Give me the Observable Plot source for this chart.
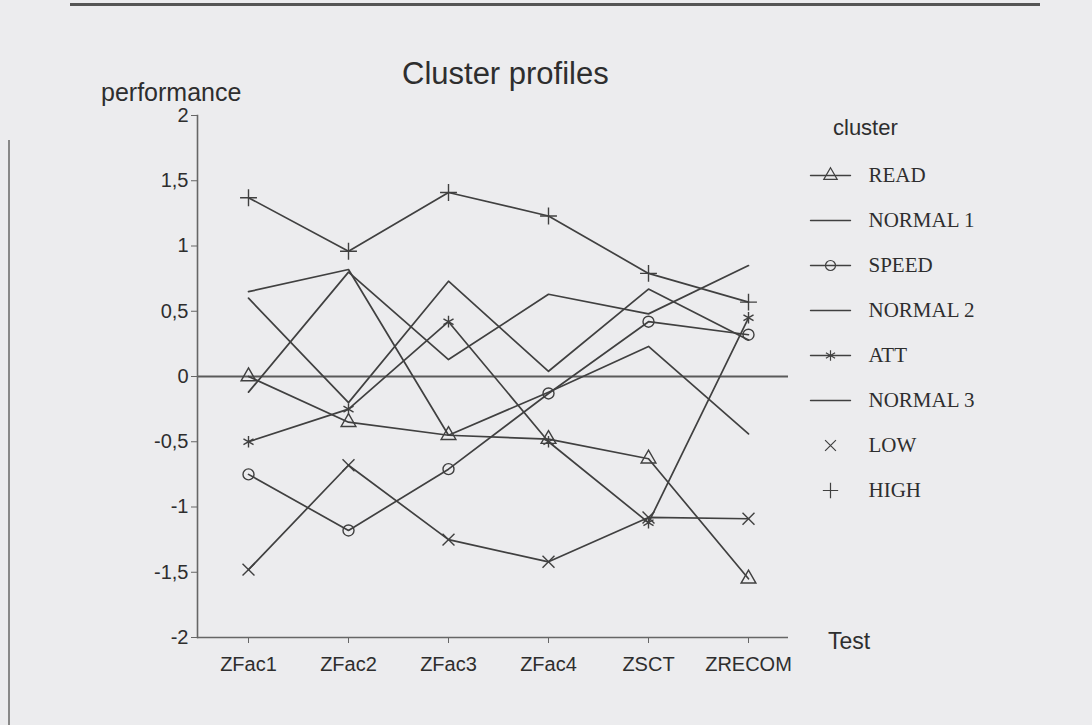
<!DOCTYPE html>
<html>
<head>
<meta charset="utf-8">
<script src="https://cdn.jsdelivr.net/npm/d3@7"></script>
<script src="https://cdn.jsdelivr.net/npm/@observablehq/plot@0.6"></script>
<style>
  html, body { margin: 0; padding: 0; }
  body { width: 1092px; height: 725px; background: #ececee; overflow: hidden; }
  #page { position: relative; width: 1092px; height: 725px; }
  #page > * { position: absolute; }
  .sans { font-family: "Liberation Sans", Arial, Helvetica, sans-serif; color: #2e2e2e; white-space: nowrap; }
  #topline { left: 70px; top: 3px; width: 970px; height: 3px; background: #555; }
  #leftline { left: 8px; top: 140px; width: 2px; height: 585px; background: #888; }
</style>
</head>
<body>
<div id="page">
  <div id="topline"></div>
  <div id="leftline"></div>
  <div id="title" class="sans" style="left:402px; top:56px; font-size:31px;">Cluster profiles</div>
  <div id="ylab" class="sans" style="left:101px; top:78px; font-size:25px;">performance</div>
  <div id="xlab" class="sans" style="left:828px; top:628px; font-size:23px;">Test</div>
  <div id="leglab" class="sans" style="left:833px; top:115px; font-size:22px;">cluster</div>
  <div id="chart" style="left:0; top:0;"></div>
  <div id="legend" style="left:790px; top:150px;"></div>
</div>
<script>
// ---- data ----
const tests = ["ZFac1", "ZFac2", "ZFac3", "ZFac4", "ZSCT", "ZRECOM"];
const clusters = ["READ", "NORMAL 1", "SPEED", "NORMAL 2", "ATT", "NORMAL 3", "LOW", "HIGH"];
const read    = [0.00, -0.35, -0.45, -0.48, -0.63, -1.55];
const normal1 = [0.65,  0.82, -0.45, -0.12,  0.23, -0.44];
const speed   = [-0.75, -1.18, -0.71, -0.13,  0.42,  0.32];
const normal2 = [0.60, -0.20,  0.73,  0.04,  0.67,  0.28];
const att     = [-0.50, -0.25,  0.42, -0.50, -1.12,  0.45];
const normal3 = [-0.12,  0.80,  0.13,  0.63,  0.48,  0.85];
const low     = [-1.48, -0.68, -1.25, -1.42, -1.08, -1.09];
const high    = [1.37,  0.96,  1.41,  1.23,  0.79,  0.57];
const yTicks  = [2, 1.5, 1, 0.5, 0, -0.5, -1, -1.5, -2];
const markerClusters = ["READ", "SPEED", "ATT", "LOW", "HIGH"];
const markerSymbols  = ["triangle", "circle", "asterisk", "times", "plus"];
const legendLine     = [true, true, true, true, true, true, false, false];

const seriesValues = [read, normal1, speed, normal2, att, normal3, low, high];
const rows = [];
clusters.forEach((c, i) => tests.forEach((t, j) => rows.push({cluster: c, test: t, value: seriesValues[i][j]})));
const markerRows = rows.filter(d => markerClusters.includes(d.cluster));
const fmt = d => String(d).replace(".", ",");
const ink = "#404040";

const chart = Plot.plot({
  width: 1092, height: 725,
  marginLeft: 197, marginRight: 304, marginTop: 115, marginBottom: 88,
  style: {background: "transparent", fontFamily: "Liberation Sans, Arial, sans-serif", color: "#2e2e2e"},
  x: {type: "point", domain: tests, range: [247, 748], padding: 0, label: null},
  y: {domain: [-2, 2], label: null},
  symbol: {domain: markerClusters, range: markerSymbols, legend: false},
  marks: [
    Plot.ruleY([0], {stroke: "#5a5a5a", strokeWidth: 2.2}),
    Plot.line(rows, {x: "test", y: "value", z: "cluster", stroke: ink, strokeWidth: 1.7}),
    Plot.dot(markerRows, {x: "test", y: "value", symbol: "cluster", stroke: ink, fill: "none", r: 5.5, strokeWidth: 1.4}),
    Plot.axisY({ticks: yTicks, tickFormat: fmt, tickSize: 6, tickPadding: 3, fontSize: 20, label: null, stroke: "#666"}),
    Plot.axisX({tickSize: 6, tickPadding: 13, fontSize: 20, label: null, stroke: "#666"}),
    Plot.ruleY([-2], {stroke: "#666", strokeWidth: 1.6}),
    Plot.frame({anchor: "left", stroke: "#666", strokeWidth: 1.6})
  ]
});
document.getElementById("chart").append(chart);

const legendRows = clusters.map((c, i) => ({cluster: c, line: legendLine[i]}));
const legendLineRows = legendRows.filter(d => d.line).flatMap(d => [{cluster: d.cluster, x: 0}, {cluster: d.cluster, x: 1}]);
const legend = Plot.plot({
  width: 300, height: 370,
  margin: 0,
  style: {background: "transparent"},
  x: {domain: [0, 1], range: [20, 60], axis: null},
  y: {type: "point", domain: clusters, range: [25, 340], padding: 0, axis: null},
  symbol: {domain: markerClusters, range: markerSymbols, legend: false},
  marks: [
    Plot.line(legendLineRows, {x: "x", y: "cluster", z: "cluster", stroke: ink, strokeWidth: 1.4}),
    Plot.dot(legendRows.filter(d => markerClusters.includes(d.cluster)), {x: () => 0.5, y: "cluster", symbol: "cluster", stroke: ink, fill: "none", r: 5, strokeWidth: 1.2}),
    Plot.text(legendRows, {x: () => 1, y: "cluster", text: "cluster", textAnchor: "start", dx: 18, fontSize: 21, fontFamily: "Liberation Serif, Times New Roman, serif", fill: "#2e2e2e"})
  ]
});
document.getElementById("legend").append(legend);
</script>
</body>
</html>
